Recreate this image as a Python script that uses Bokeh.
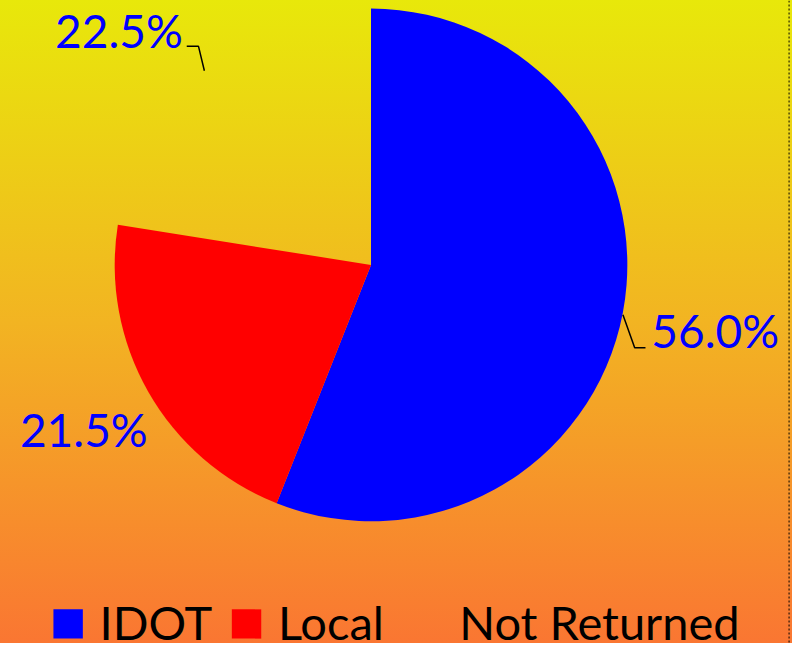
import math
from bokeh.plotting import figure
from bokeh.models import Range1d, Span
from bokeh.core.properties import value
from bokeh.embed import file_html
from bokeh.resources import INLINE

# ---- data ----
categories = ["IDOT", "Local", "Not Returned"]
shares = [56.0, 21.5, 22.5]
slice_colors = ["#0000FF", "#FF0000", None]

# ---- layout (reference pixel coordinates, y downward; scales map them to the figure) ----
REF_W, REF_H = 808, 659
W, H = 792, 643
CX, CY, R = 378, 271, 261.5
FONT = "Lato"
FS = "46px"
FS_LEG = "47px"
TDY = 17  # baseline correction for text placement

def Y(y):
    return REF_H - y

p = figure(width=W, height=H, output_backend="svg", toolbar_location=None,
           x_range=Range1d(0, REF_W), y_range=Range1d(0, REF_H),
           min_border=0, outline_line_color=None)
p.axis.visible = False
p.grid.visible = False
p.background_fill_alpha = 0
p.border_fill_alpha = 0
p.styles = {"background": "linear-gradient(to bottom, #E8E80A 0%, #F2B422 50%, #FA7632 100%)"}

# ---- pie ----
total = sum(shares)
cum = 0.0
starts, ends = [], []
for s in shares:
    starts.append(math.pi / 2 - 2 * math.pi * cum / total)
    cum += s
    ends.append(math.pi / 2 - 2 * math.pi * cum / total)

for cat, st, en, col in zip(categories, starts, ends, slice_colors):
    if col is None:
        continue
    p.wedge(x=CX, y=Y(CY), radius=R, start_angle=st, end_angle=en,
            direction="clock", fill_color=col, line_color=None)

# ---- percentage labels ----
label_pos = {"IDOT": (664, 355, "left"), "Local": (85, 457, "center"),
             "Not Returned": (186, 48, "right")}
for cat, s in zip(categories, shares):
    x, y, al = label_pos[cat]
    p.text(x=[x], y=[Y(y - TDY)], text=[f"{s:.1f}%"], text_align=al,
           text_baseline="alphabetic", text_color="#0000FF",
           text_font=value(FONT), text_font_size=FS)

# leader lines
p.line(x=[190, 202, 208], y=[Y(47), Y(47), Y(72)], line_color="black", line_width=1.5)
p.line(x=[635, 647, 658], y=[Y(322), Y(356), Y(356)], line_color="black", line_width=1.5)

# ---- legend ----
leg_sq_x = [54, 236, 418]
leg_tx_x = [101, 283, 468]
SQ = 30
for cat, col, sx, tx in zip(categories, slice_colors, leg_sq_x, leg_tx_x):
    if col is not None:
        p.quad(left=sx, right=sx + SQ, top=Y(624), bottom=Y(654),
               fill_color=col, line_color=None)
    p.text(x=[tx], y=[Y(654 - TDY)], text=[cat], text_align="left",
           text_baseline="alphabetic", text_color="black",
           text_font=value(FONT), text_font_size=FS_LEG)

# dotted border on the right
p.add_layout(Span(location=804.5, dimension="height", line_color="black",
                  line_width=1, line_dash="2 2"))

open("out.html", "w").write(file_html(p, INLINE))
